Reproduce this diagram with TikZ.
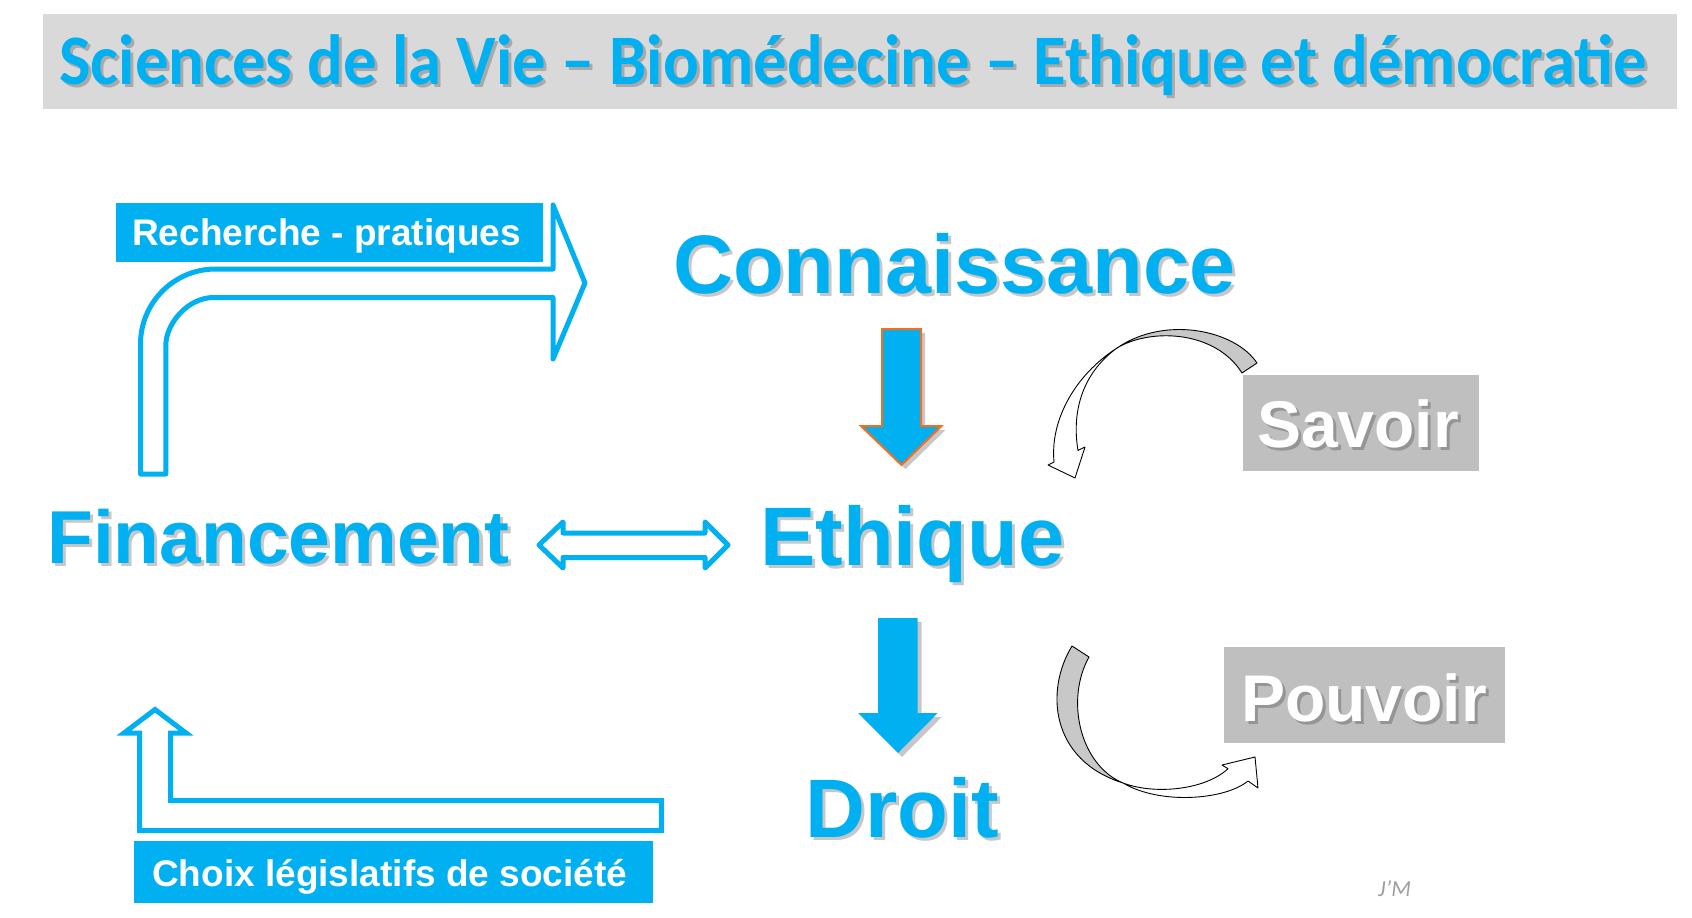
\documentclass[tikz,border=0pt]{standalone}
\usepackage{fontspec}
\setmainfont{Liberation Sans}
\newfontfamily\calfont{Carlito}
\newfontfamily\caltitle{Carlito}[FakeStretch=0.94]
\definecolor{sky}{HTML}{00B0F0}
\definecolor{titlebg}{HTML}{D9D9D9}
\definecolor{boxgray}{HTML}{BFBFBF}
\definecolor{curvegray}{HTML}{C8C8C8}
\definecolor{orng}{RGB}{244,110,30}
\newcommand\shtext[6]{%
  \node[txt, text=black, opacity=0.22] (#1s) at (#2+3,#3+3) {#4#6};
  \node[txt, text=#5] (#1) at (#2,#3) {#4#6};}
\begin{document}
\begin{tikzpicture}[x=1pt,y=-1pt,
  txt/.style={inner sep=0pt, anchor=base west},
  outlinearrow/.style={draw=sky, line width=5pt, fill=white},
  blockarrow/.style={fill=sky},
  shadowshape/.style={fill=black, opacity=0.22},
  curveback/.style={fill=curvegray, draw=black, line width=0.9pt, line join=round},
  curvefront/.style={fill=white, draw=black, line width=0.9pt, line join=round},
  labelbox/.style={fill=sky},
  graybox/.style={fill=boxgray}]
\useasboundingbox (0,0) rectangle (1692,918);
\fill[white] (0,0) rectangle (1692,918);

% title
\fill[titlebg] (43,14) rectangle (1677,109);
\shtext{title}{59}{84}{\caltitle\bfseries\fontsize{71}{76}\selectfont}{sky}{Sciences de la Vie – Biomédecine – Ethique et démocratie}

% Recherche - pratiques bent arrow
\draw[outlinearrow, line join=round]
  (140.5,474) -- (140.5,344) .. controls (140.5,302.6) and (174.1,269) .. (215.5,269)
  -- (553,269) -- (553,205) -- (585,283) -- (553,359) -- (553,297.5)
  -- (213.8,297.5) .. controls (187.3,297.5) and (165.8,324) .. (165.8,345.5)
  -- (165.8,474) -- cycle;
\fill[labelbox] (116,203) rectangle (543,262);
\node[txt, text=white] (rechtxt) at (132,245) {\bfseries\fontsize{37}{40}\selectfont Recherche - pratiques};

% Choix legislatifs bent arrow
\draw[outlinearrow, line join=miter]
  (139.7,830.5) -- (139.7,733) -- (124,733) -- (155,709.5) -- (186,733)
  -- (170.5,733) -- (170.5,800.5) -- (661.4,800.5) -- (661.4,830.5) -- cycle;
\fill[labelbox] (134,841) rectangle (653,903);
\node[txt, text=white] (choix) at (152,886) {\bfseries\fontsize{37}{40}\selectfont Choix législatifs de société};

% main words
\shtext{conn}{673}{293}{\bfseries\fontsize{83}{90}\selectfont}{sky}{Connaissance}
\shtext{fin}{47}{563}{\bfseries\fontsize{75}{80}\selectfont}{sky}{Financement}
\shtext{eth}{760}{565}{\bfseries\fontsize{83}{90}\selectfont}{sky}{Ethique}
\shtext{droit}{805}{837}{\bfseries\fontsize{83}{90}\selectfont}{sky}{Droit}

% double arrow
\draw[outlinearrow, line join=round]
  (539,545) -- (563,522) -- (563,533) -- (705,533) -- (705,522) -- (728,545)
  -- (705,568) -- (705,557.5) -- (563,557.5) -- (563,568) -- cycle;

% arrow Connaissance -> Ethique
\fill[shadowshape] (886,333) -- (925,333) -- (925,430) -- (945.5,430) -- (905.5,469) -- (865,430) -- (886,430) -- cycle;
\draw[blockarrow, draw=orng, line width=2pt, line join=miter]
  (882,329) -- (921,329) -- (921,426) -- (941.5,426) -- (901.5,465) -- (861,426) -- (882,426) -- cycle;

% arrow Ethique -> Droit
\fill[shadowshape] (882,622) -- (921.7,622) -- (921.7,717) -- (941.7,717) -- (902,757) -- (862,717) -- (882,717) -- cycle;
\fill[blockarrow]
  (878,618) -- (917.7,618) -- (917.7,713) -- (937.7,713) -- (898,753) -- (858,713) -- (878,713) -- cycle;

% Savoir
\fill[graybox] (1243,375) rectangle (1479,471);
\shtext{savoir}{1257}{447}{\bfseries\fontsize{66}{70}\selectfont}{white}{Savoir}

% Pouvoir
\fill[graybox] (1224,647) rectangle (1505,743);
\shtext{pouvoir}{1241}{721}{\bfseries\fontsize{66}{70}\selectfont}{white}{Pouvoir}

% curved arrow near Savoir
\draw[curveback] (1257,363) .. controls (1235,330) and (1165,315) .. (1117,348)
  .. controls (1150,328) and (1215,330) .. (1242,373) -- cycle;
\draw[curvefront] (1117,348) .. controls (1075,375) and (1050,420) .. (1054,462)
  -- (1048,465) -- (1075,478) -- (1085,447) -- (1078,450.4)
  .. controls (1072,415) and (1080,375) .. (1117,348) -- cycle;

% curved arrow near Pouvoir
\draw[curveback] (1072,646) .. controls (1045,690) and (1050,760) .. (1123,783)
  .. controls (1080,765) and (1065,700) .. (1089,657) -- cycle;
\draw[curvefront] (1123,783) .. controls (1160,805) and (1225,800) .. (1248,781)
  -- (1258,788) -- (1255,757) -- (1222,765) -- (1228,768.7)
  .. controls (1205,790) and (1155,795) .. (1123,783) -- cycle;

% signature
\node[txt, text=gray!75] (sig) at (1378,896) {\calfont\itshape\fontsize{23}{26}\selectfont J’M};
\end{tikzpicture}
\end{document}
